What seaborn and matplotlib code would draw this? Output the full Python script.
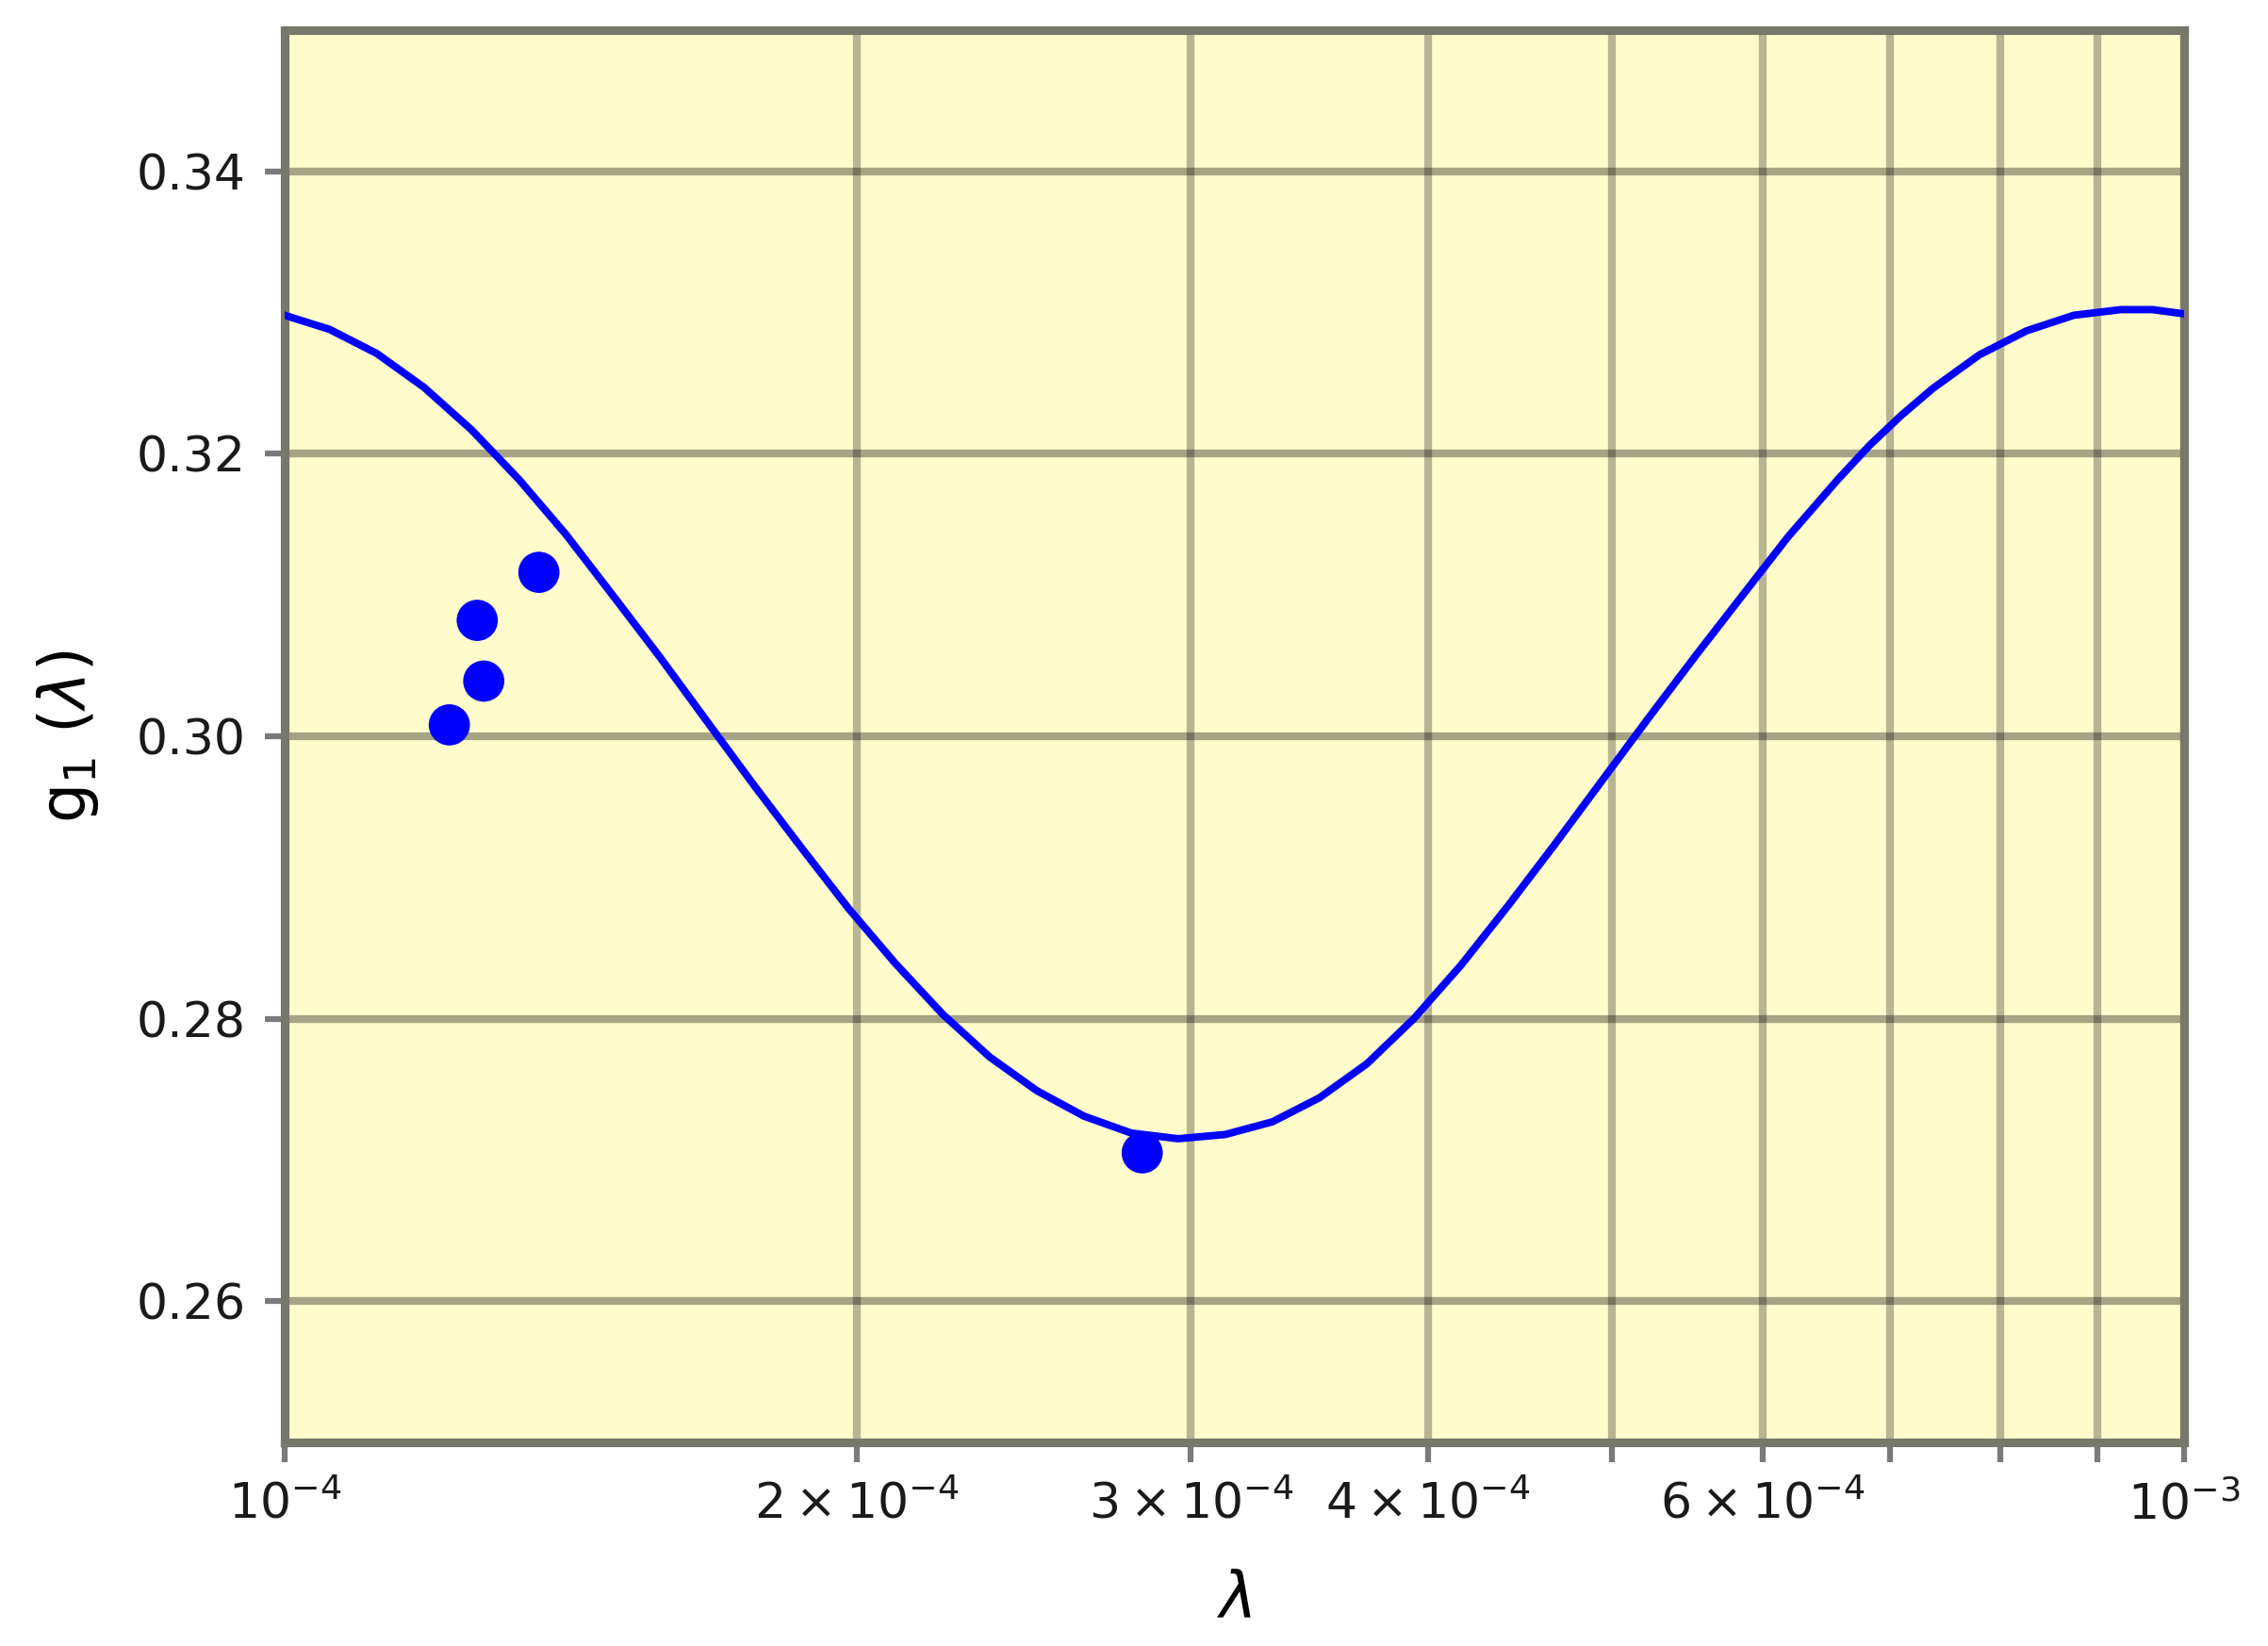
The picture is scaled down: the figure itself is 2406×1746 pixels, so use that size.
import numpy as np
import pandas as pd
import matplotlib
matplotlib.use("Agg")
import matplotlib.pyplot as plt
import seaborn as sns

# Curve g1(lambda) (lambda in units of 1e-4)
curve_lambda_e4 = [1.000, 1.056, 1.118, 1.184, 1.254, 1.328, 1.406, 1.488, 1.576,
                   1.678, 1.767, 1.871, 1.981, 2.097, 2.221, 2.350, 2.489, 2.635,
                   2.791, 2.954, 3.128, 3.312, 3.506, 3.713, 3.931, 4.163, 4.407,
                   4.667, 4.941, 5.232, 5.539, 5.865, 6.186, 6.575, 6.831, 7.096,
                   7.371, 7.803, 8.262, 8.748, 9.262, 9.625, 10.000]
curve_g1 = [0.3298, 0.3288, 0.3271, 0.3247, 0.3217, 0.3182, 0.3143, 0.3100, 0.3056,
            0.3006, 0.2965, 0.2921, 0.2878, 0.2839, 0.2803, 0.2773, 0.2749, 0.2731,
            0.2719, 0.2715, 0.2718, 0.2727, 0.2744, 0.2768, 0.2800, 0.2838, 0.2880,
            0.2924, 0.2969, 0.3014, 0.3058, 0.3101, 0.3141, 0.3182, 0.3206, 0.3227,
            0.3246, 0.3270, 0.3287, 0.3298, 0.3302, 0.3302, 0.3299]

# Data points
points_lambda_e4 = [1.221, 1.263, 1.273, 1.361, 2.828]
points_g1 = [0.3008, 0.3082, 0.3039, 0.3116, 0.2705]

y_ticks = [0.26, 0.28, 0.30, 0.32, 0.34]

curve_df = pd.DataFrame({"lam": np.array(curve_lambda_e4) * 1e-4, "g1": curve_g1})
pts_df = pd.DataFrame({"lam": np.array(points_lambda_e4) * 1e-4, "g1": points_g1})

fig = plt.figure(figsize=(2406 / 300, 1746 / 300), dpi=300)
ax = fig.add_axes([0.1255, 0.1237, 0.963 - 0.1255, 0.9818 - 0.1237])
ax.set_facecolor("#fffccc")
ax.set_xscale("log")

sns.lineplot(data=curve_df, x="lam", y="g1", ax=ax, color="#0000ff", linewidth=1.9,
             sort=False, zorder=3)
sns.scatterplot(data=pts_df, x="lam", y="g1", ax=ax, color="#0000ff", s=110,
                edgecolor="none", zorder=4)

ax.set_xlim(1e-4, 1e-3)
ax.set_ylim(0.25, 0.35)
ax.set_yticks(y_ticks)
ax.set_yticklabels([f"{v:.2f}" for v in y_ticks])

ax.grid(True, which="major", color="black", alpha=0.35, linewidth=2.0)
ax.grid(True, which="minor", axis="x", color="black", alpha=0.28, linewidth=2.0)
ax.set_axisbelow(True)

for s in ax.spines.values():
    s.set_color("#77776a")
    s.set_linewidth(2.2)

ax.tick_params(axis="both", which="major", labelsize=12.5, length=5, width=1.5,
               pad=5, color="#7a7a7a", labelcolor="#1a1a1a")
ax.tick_params(axis="x", which="minor", labelsize=12.5, length=5, width=1.5,
               pad=5, color="#7a7a7a", labelcolor="#1a1a1a")

ax.set_xlabel(r"$\lambda$", fontsize=16, labelpad=10)
ax.set_ylabel(r"g$_1$ ($\lambda$)", fontsize=16, labelpad=9)

fig.savefig("out.png", dpi=300)
